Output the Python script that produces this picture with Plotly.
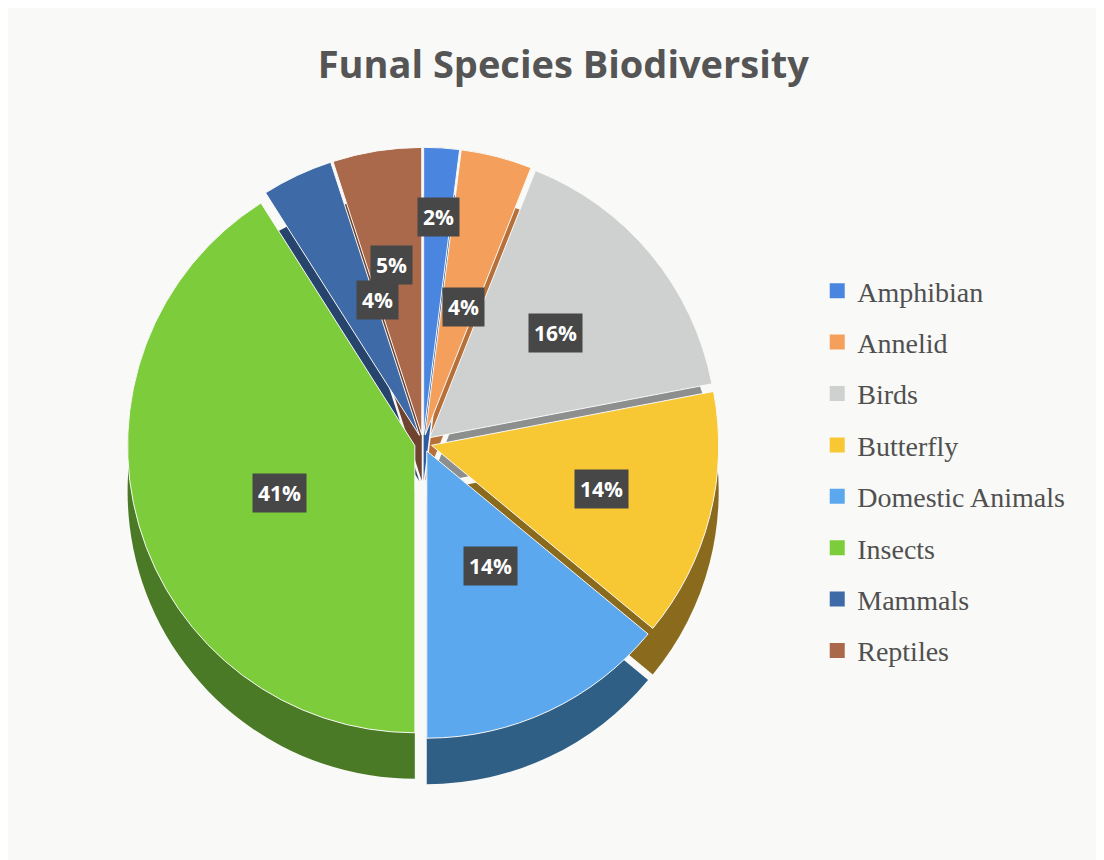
import math
import plotly.graph_objects as go

# ---- data ----
categories = ["Amphibian", "Annelid", "Birds", "Butterfly", "Domestic Animals",
              "Insects", "Mammals", "Reptiles"]
percentages = [2, 4, 16, 14, 14, 41, 4, 5]

# ---- styles ----
top_colors = ["#4a86e0", "#f4a05c", "#cfd0d0", "#f7c833", "#5ba8ee",
              "#7ccc3c", "#3e6aa8", "#a9694a"]
side_colors = ["#2f5c9e", "#b8703a", "#8d8e8e", "#8a6a1c", "#2f5f85",
               "#4a7a25", "#27446c", "#6e4330"]
label_radius = {"Amphibian": 0.86, "Annelid": 0.56, "Birds": 0.6, "Butterfly": 0.64,
                "Domestic Animals": 0.55, "Insects": 0.62, "Mammals": 0.55, "Reptiles": 0.7}
PULL = 0.03
W, H = 1104, 860
BG = "#f9f9f7"
dom_x = [0.108, 0.644]
dom_y = [0.15, 0.838]
depth = 46 / H

fig = go.Figure()
# side (depth) layer
fig.add_trace(go.Pie(
    labels=categories, values=percentages, sort=False, direction="clockwise",
    rotation=0, pull=[PULL] * len(categories),
    marker=dict(colors=side_colors, line=dict(width=0)),
    textinfo="none", hoverinfo="skip", showlegend=False,
    domain=dict(x=dom_x, y=[dom_y[0] - depth, dom_y[1] - depth]),
))
# top face
fig.add_trace(go.Pie(
    labels=categories, values=percentages, sort=False, direction="clockwise",
    rotation=0, pull=[PULL] * len(categories),
    marker=dict(colors=top_colors, line=dict(color=BG, width=1)),
    textinfo="none", showlegend=False,
    domain=dict(x=dom_x, y=dom_y),
))

# legend entries (one per category, spaced as groups)
for i, (cat, col) in enumerate(zip(categories, top_colors)):
    fig.add_trace(go.Scatter(
        x=[None], y=[None], mode="markers", name=cat,
        marker=dict(symbol="square", size=15, color=col),
        legendgroup=f"g{i}", showlegend=True, hoverinfo="skip",
    ))

# percentage labels in dark boxes, positioned from the data
cx = (dom_x[0] + dom_x[1]) / 2
cy = (dom_y[0] + dom_y[1]) / 2
size_px = min((dom_x[1] - dom_x[0]) * W, (dom_y[1] - dom_y[0]) * H)
r_px = size_px / 2 / (1 + PULL)
total = sum(percentages)
cum = 0
for cat, v in zip(categories, percentages):
    mid = (cum + v / 2) / total * 2 * math.pi
    cum += v
    k = label_radius[cat]
    x = cx + k * r_px * math.sin(mid) / W
    y = cy + k * r_px * math.cos(mid) / H
    fig.add_annotation(
        x=x, y=y, xref="paper", yref="paper", showarrow=False,
        text=f"<b>{round(v / total * 100)}%</b>",
        font=dict(family="Open Sans", size=21, color="white"),
        bgcolor="#474747", borderpad=5,
    )

fig.update_layout(
    width=W, height=H,
    margin=dict(l=0, r=0, t=0, b=0),
    paper_bgcolor=BG, plot_bgcolor=BG,
    xaxis=dict(visible=False), yaxis=dict(visible=False),
    title=dict(text="<b>Funal Species Biodiversity</b>", x=0.503, y=0.934,
               xanchor="center", yanchor="middle",
               font=dict(family="Open Sans", size=38, color="#555555")),
    legend=dict(x=0.733, y=0.70, xanchor="left", yanchor="top",
                font=dict(family="Liberation Serif", size=28, color="#505050"),
                bgcolor="rgba(0,0,0,0)", itemclick=False, tracegroupgap=12),
)

fig.write_html("out.html")
